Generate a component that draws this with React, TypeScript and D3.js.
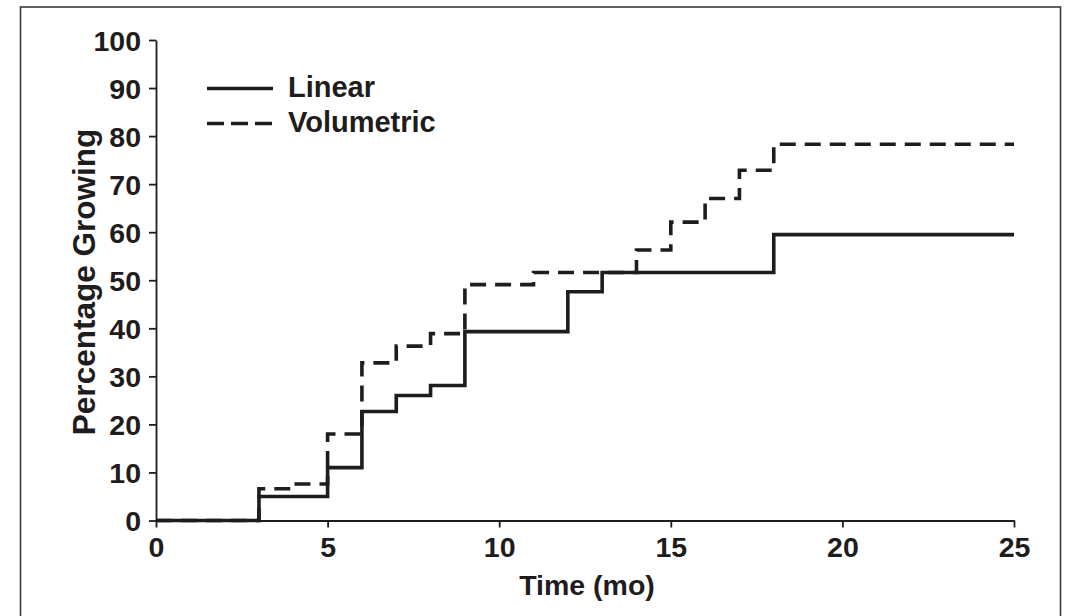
import React, { useEffect, useRef } from "react";
import * as d3 from "d3";

const xTicks = [0, 5, 10, 15, 20, 25];
const yTicks = [0, 10, 20, 30, 40, 50, 60, 70, 80, 90, 100];

const linearTimes = [0, 3, 5, 6, 7, 8, 9, 12, 13, 18, 25];
const linearValues = [0, 5, 11, 22.7, 26, 28.1, 39.3, 47.6, 51.6, 59.5, 59.5];

const volumetricTimes = [0, 3, 4, 5, 6, 7, 8, 9, 11, 14, 15, 16, 17, 18, 25];
const volumetricValues = [0, 6.6, 7.6, 18, 32.8, 36.3, 38.9, 49.1, 51.6, 56.3, 62.1, 67, 72.9, 78.3, 78.3];

const seriesNames = ["Linear", "Volumetric"];
const xTitle = "Time (mo)";
const yTitle = "Percentage Growing";

const W = 1068;
const H = 616;
const FONT = "'Liberation Sans', Arial, Helvetica, sans-serif";
const INK = "#1f1c1d";

export default function App() {
  const ref = useRef<SVGSVGElement>(null);

  useEffect(() => {
    const svg = d3.select(ref.current);
    svg.selectAll("*").remove();

    const x = d3.scaleLinear().domain([0, 25]).range([156, 1014]);
    const y = d3.scaleLinear().domain([0, 100]).range([520.5, 40]);

    // outer frame
    svg
      .append("rect")
      .attr("x", 20.5)
      .attr("y", 7)
      .attr("width", 1040)
      .attr("height", 640)
      .attr("fill", "none")
      .attr("stroke", "#3a3a3a")
      .attr("stroke-width", 1.6);

    // axes
    const gx = svg
      .append("g")
      .attr("transform", `translate(0,${y(0)})`)
      .call(d3.axisBottom(x).tickValues(xTicks).tickSize(7).tickSizeOuter(0).tickPadding(10));
    const gy = svg
      .append("g")
      .attr("transform", `translate(${x(0)},0)`)
      .call(d3.axisLeft(y).tickValues(yTicks).tickSize(7).tickSizeOuter(0).tickPadding(8));

    [gx, gy].forEach((g) => {
      g.select(".domain").attr("stroke", INK).attr("stroke-width", 1.8);
      g.selectAll(".tick line").attr("stroke", INK).attr("stroke-width", 1.8);
      g.selectAll(".tick text")
        .attr("fill", INK)
        .attr("font-family", FONT)
        .attr("font-weight", "bold")
        .attr("font-size", 28.5);
    });
    gy.selectAll(".tick text").attr("dy", "0.36em");
    gx.selectAll(".tick text").attr("dy", "0.7em");

    // titles
    svg
      .append("text")
      .attr("x", 587)
      .attr("y", 595)
      .attr("text-anchor", "middle")
      .attr("font-family", FONT)
      .attr("font-weight", "bold")
      .attr("font-size", 28.5)
      .attr("fill", INK)
      .text(xTitle);
    svg
      .append("text")
      .attr("transform", `translate(95,282) rotate(-90)`)
      .attr("text-anchor", "middle")
      .attr("font-family", FONT)
      .attr("font-weight", "bold")
      .attr("font-size", 31.5)
      .attr("fill", INK)
      .text(yTitle);

    const line = d3
      .line<[number, number]>()
      .x((d) => x(d[0]))
      .y((d) => y(d[1]))
      .curve(d3.curveStepAfter);

    const linData = linearTimes.map((t, i) => [t, linearValues[i]] as [number, number]);
    const volData = volumetricTimes.map((t, i) => [t, volumetricValues[i]] as [number, number]);

    svg
      .append("path")
      .attr("d", line(volData))
      .attr("fill", "none")
      .attr("stroke", INK)
      .attr("stroke-width", 3.6)
      .attr("stroke-dasharray", "16 9");
    svg
      .append("path")
      .attr("d", line(linData))
      .attr("fill", "none")
      .attr("stroke", INK)
      .attr("stroke-width", 3.6);

    // legend
    const leg = [
      { name: seriesNames[0], y: 88.5, dash: null },
      { name: seriesNames[1], y: 123.5, dash: "17 7" },
    ];
    leg.forEach((l) => {
      svg
        .append("line")
        .attr("x1", 207)
        .attr("x2", 273)
        .attr("y1", l.y)
        .attr("y2", l.y)
        .attr("stroke", INK)
        .attr("stroke-width", 3.6)
        .attr("stroke-dasharray", l.dash);
      svg
        .append("text")
        .attr("x", 288)
        .attr("y", l.y + 8.5)
        .attr("font-family", FONT)
        .attr("font-weight", "bold")
        .attr("font-size", 29)
        .attr("fill", INK)
        .text(l.name);
    });
  }, []);

  return (
    <svg
      ref={ref}
      width={W}
      height={H}
      style={{ position: "absolute", left: 0, top: 0, background: "#fff" }}
    />
  );
}
